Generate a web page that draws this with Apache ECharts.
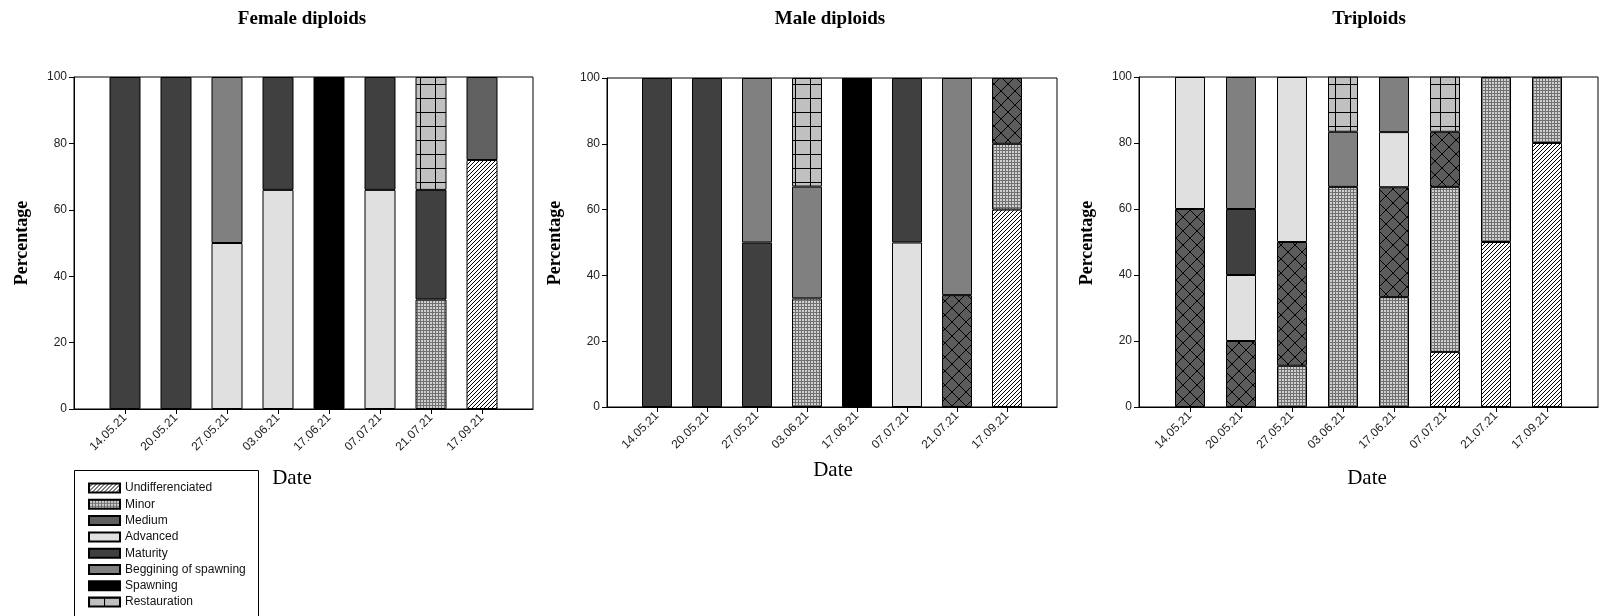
<!DOCTYPE html>
<html lang="en">
<head>
    <meta charset="UTF-8">
    <title>Gonad stages by date</title>
    <style>
        body { margin: 0; background: #fff; }
        #main { width: 1600px; height: 616px; }
    </style>
    <script src="https://cdn.jsdelivr.net/npm/echarts@6/dist/echarts.min.js"></script>
</head>
<body>
<div id="main"></div>
<script>
    // Dates (same on all three panels)
    var dates = ['14.05.21', '20.05.21', '27.05.21', '03.06.21', '17.06.21', '07.07.21', '21.07.21', '17.09.21'];
    var stages = ['Undifferenciated', 'Minor', 'Medium', 'Advanced', 'Maturity', 'Beggining of spawning', 'Spawning', 'Restauration'];
    var yTicks = [0, 20, 40, 60, 80, 100];

    // Female diploids (% per stage, bottom to top)
    var femaleUndiff = [null, null, null, null, null, null, null, 75];
    var femaleMinor = [null, null, null, null, null, null, 33, null];
    var femaleMedium = [null, null, null, null, null, null, null, 25];
    var femaleAdvanced = [null, null, 50, 66, null, 66, null, null];
    var femaleMaturity = [100, 100, null, 34, null, 34, 33, null];
    var femaleBeggining = [null, null, 50, null, null, null, null, null];
    var femaleSpawning = [null, null, null, null, 100, null, null, null];
    var femaleRestauration = [null, null, null, null, null, null, 34, null];

    // Male diploids
    var maleUndiff = [null, null, null, null, null, null, null, 60];
    var maleMinor = [null, null, null, 33, null, null, null, 20];
    var maleMedium = [null, null, null, null, null, null, 34, 20];
    var maleAdvanced = [null, null, null, null, null, 50, null, null];
    var maleMaturity = [100, 100, 50, null, null, 50, null, null];
    var maleBeggining = [null, null, 50, 34, null, null, 66, null];
    var maleSpawning = [null, null, null, null, 100, null, null, null];
    var maleRestauration = [null, null, null, 33, null, null, null, null];

    // Triploids
    var tripUndiff = [null, null, null, null, null, 16.7, 50, 80];
    var tripMinor = [null, null, 12.5, 66.7, 33.3, 50, 50, 20];
    var tripMedium = [60, 20, 37.5, null, 33.3, 16.7, null, null];
    var tripAdvanced = [40, 20, 50, null, 16.7, null, null, null];
    var tripMaturity = [null, 20, null, null, null, null, null, null];
    var tripBeggining = [null, 40, null, 16.7, 16.7, null, null, null];
    var tripSpawning = [null, null, null, null, null, null, null, null];
    var tripRestauration = [null, null, null, 16.7, null, 16.7, null, null];

    var panels = [
        { title: 'Female diploids', data: [femaleUndiff, femaleMinor, femaleMedium, femaleAdvanced, femaleMaturity, femaleBeggining, femaleSpawning, femaleRestauration] },
        { title: 'Male diploids', data: [maleUndiff, maleMinor, maleMedium, maleAdvanced, maleMaturity, maleBeggining, maleSpawning, maleRestauration] },
        { title: 'Triploids', data: [tripUndiff, tripMinor, tripMedium, tripAdvanced, tripMaturity, tripBeggining, tripSpawning, tripRestauration] }
    ];

    // small canvas fill patterns
    function pattern(w, h, bg, draw) {
        var c = document.createElement('canvas');
        c.width = w; c.height = h;
        var ctx = c.getContext('2d');
        ctx.fillStyle = bg;
        ctx.fillRect(0, 0, w, h);
        ctx.fillStyle = '#000';
        ctx.strokeStyle = '#000';
        draw(ctx, w, h);
        return { image: c, repeat: 'repeat' };
    }
    var hatch = pattern(4, 4, '#fff', function (ctx) {
        for (var i = 0; i < 4; i++) ctx.fillRect(i, 3 - i, 1, 1);
    });
    var dots = pattern(3, 3, '#d0d0d0', function (ctx) {
        ctx.fillStyle = '#707070';
        ctx.fillRect(0, 0, 3, 1);
        ctx.fillRect(0, 0, 1, 3);
    });
    var cross = pattern(14, 14, '#5c5c5c', function (ctx) {
        ctx.lineWidth = 1;
        ctx.beginPath();
        ctx.moveTo(0, 0); ctx.lineTo(14, 14);
        ctx.moveTo(14, 0); ctx.lineTo(0, 14);
        ctx.stroke();
    });
    var grid = pattern(15, 14, '#c0c0c0', function (ctx) {
        ctx.fillRect(0, 0, 15, 1);
        ctx.fillRect(0, 0, 1, 14);
    });

    var fills = [hatch, dots, '#606060', '#e0e0e0', '#404040', '#808080', '#000000', grid];

    var grids = [
        { left: 74, top: 77, width: 459, height: 332, barWidth: 31 },
        { left: 607, top: 78, width: 450, height: 329, barWidth: 30 },
        { left: 1139, top: 77, width: 459, height: 330, barWidth: 30 }
    ];

    var sans = 'Liberation Sans';
    var serif = 'Liberation Serif';
    var cats = [''].concat(dates, ['']);
    var onDate = function (idx) { return idx > 0 && idx <= dates.length; };

    var option = {
        animation: false,
        grid: grids.map(function (g) {
            return { left: g.left, top: g.top, width: g.width, height: g.height, show: true, borderColor: '#000', borderWidth: 1, containLabel: false };
        }),
        xAxis: grids.map(function (g, i) {
            return {
                gridIndex: i, type: 'category', data: cats, boundaryGap: false,
                axisLine: { lineStyle: { color: '#000', width: 1 } },
                axisTick: { interval: onDate, length: 5, lineStyle: { color: '#000' } },
                axisLabel: { interval: onDate, rotate: 45, margin: 7, fontSize: 12, color: '#222', fontFamily: sans },
                splitLine: { show: false }
            };
        }),
        yAxis: grids.map(function (g, i) {
            return {
                gridIndex: i, type: 'value', min: yTicks[0], max: yTicks[yTicks.length - 1], interval: 20,
                axisLine: { show: true, lineStyle: { color: '#000', width: 1 } },
                axisTick: { show: true, length: 5, lineStyle: { color: '#000' } },
                axisLabel: { fontSize: 12, color: '#222', margin: 7, fontFamily: sans },
                splitLine: { show: false }
            };
        }),
        legend: {
            orient: 'vertical', left: 83, top: 476,
            data: stages, icon: 'rect', itemWidth: 31, itemHeight: 9, itemGap: 2.3,
            selectedMode: false,
            textStyle: { fontFamily: sans, fontSize: 12, color: '#111', lineHeight: 14 }
        },
        graphic: [
            { type: 'rect', shape: { x: 74.5, y: 470.5, width: 184, height: 160 }, style: { fill: 'none', stroke: '#000', lineWidth: 1 } }
        ],
        series: []
    };

    var titleX = [302, 830, 1369];
    var pctX = [22, 555, 1087];
    var dateX = [292, 833, 1367];
    var dateY = [478, 470, 478];

    panels.forEach(function (p, i) {
        option.graphic.push({ type: 'text', x: titleX[i], y: 19, style: { text: p.title, font: 'bold 19px ' + serif, fill: '#000', textAlign: 'center', textVerticalAlign: 'middle' } });
        option.graphic.push({ type: 'text', x: pctX[i], y: 243, rotation: Math.PI / 2, style: { text: 'Percentage', font: 'bold 18px ' + serif, fill: '#000', textAlign: 'center', textVerticalAlign: 'middle' } });
        option.graphic.push({ type: 'text', x: dateX[i], y: dateY[i], style: { text: 'Date', font: '21px ' + serif, fill: '#000', textAlign: 'center', textVerticalAlign: 'middle' } });

        stages.forEach(function (name, s) {
            var fill = fills[s];
            // Medium is drawn cross-hatched on the male and triploid panels
            if (s === 2 && i > 0) fill = cross;
            option.series.push({
                type: 'bar', name: name, xAxisIndex: i, yAxisIndex: i, stack: 'panel' + i,
                barWidth: grids[i].barWidth,
                data: [null].concat(p.data[s], [null]),
                itemStyle: { color: fill, borderColor: '#000', borderWidth: 1 },
                emphasis: { disabled: true }
            });
        });
    });

    var chart = echarts.init(document.getElementById('main'));
    chart.setOption(option);
</script>
</body>
</html>
